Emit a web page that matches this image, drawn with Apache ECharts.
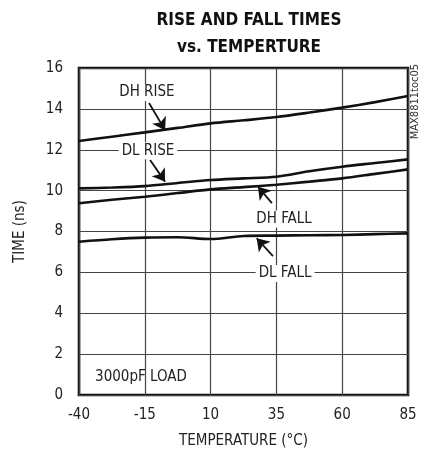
<!DOCTYPE html>
<html>
<head>
<meta charset="utf-8">
<script src="https://cdn.jsdelivr.net/npm/echarts@6/dist/echarts.min.js"></script>
<style>html,body{margin:0;padding:0;background:#fff}#c{width:425px;height:460px}</style>
</head>
<body>
<div id="c"></div>
<script>
const temps = [-40, -27.5, -15, -2.5, 10, 22.5, 35, 47.5, 60, 72.5, 85];
const dhRise = [12.43, 12.64, 12.85, 13.07, 13.29, 13.44, 13.6, 13.82, 14.06, 14.33, 14.63];
const dlRise = [10.11, 10.15, 10.22, 10.37, 10.52, 10.60, 10.68, 10.95, 11.17, 11.35, 11.53];
const dhFall = [9.38, 9.55, 9.70, 9.88, 10.06, 10.17, 10.29, 10.44, 10.60, 10.82, 11.04];
const dlFall = [7.50, 7.62, 7.70, 7.72, 7.63, 7.78, 7.80, 7.82, 7.83, 7.87, 7.91];
const xTicks = [-40, -15, 10, 35, 60, 85];
const yTicks = [0, 2, 4, 6, 8, 10, 12, 14, 16];

// annotation labels: [text, x, y]
const labels = [
  ['DH RISE', -14.2, 14.8],
  ['DL RISE', -13.8, 11.95],
  ['DH FALL', 37.9, 8.61],
  ['DL FALL', 38.3, 5.95]
];
// arrows: [tailX, tailY, tipX, tipY]
const arrows = [
  [-13.4, 14.29, -7.3, 12.96],
  [-13.0, 11.5, -7.3, 10.44],
  [33.3, 9.39, 28.0, 10.19],
  [33.7, 6.8, 27.5, 7.67]
];

const FONT = "'Liberation Sans Narrow', 'DejaVu Sans Condensed', 'Roboto', sans-serif";
const chart = echarts.init(document.getElementById('c'), null, {renderer: 'canvas'});

function pairs(vals) { return temps.map((t, i) => [t, vals[i]]); }
const lineStyle = {color: '#111', width: 2.6};
const mkSeries = (name, vals) => ({
  name, type: 'line', data: pairs(vals), showSymbol: false, smooth: 0.3,
  lineStyle, itemStyle: {color: '#111'}, z: 5
});

const series = [
  mkSeries('DH RISE', dhRise),
  mkSeries('DL RISE', dlRise),
  mkSeries('DH FALL', dhFall),
  mkSeries('DL FALL', dlFall),
  {
    type: 'line', data: [], z: 10,
    markLine: {
      silent: true, animation: false,
      symbol: ['none', 'arrow'], symbolSize: 12,
      lineStyle: {color: '#111', width: 1.8, type: 'solid'},
      label: {show: false},
      data: arrows.map(a => [{coord: [a[0], a[1]]}, {coord: [a[2], a[3]]}])
    },
    markPoint: {
      silent: true, animation: false,
      symbol: 'rect', symbolSize: 0,
      label: {
        show: true, position: 'inside', color: '#222', fontSize: 15,
        fontFamily: FONT, backgroundColor: '#fff', padding: [1, 3]
      },
      data: labels.map(l => ({coord: [l[1], l[2]], value: l[0], label: {formatter: l[0]}})).concat([
        {coord: [-33.9, 0.88], value: '3000pF LOAD', label: {formatter: '3000pF LOAD', position: 'right', distance: 0, backgroundColor: 'transparent', padding: 0}}
      ])
    }
  }
];

chart.setOption({
  animation: false,
  title: {
    text: 'RISE AND FALL TIMES\nvs. TEMPERTURE',
    left: 244, top: 2, textAlign: 'center',
    textStyle: {fontFamily: FONT, fontWeight: 'bold', fontSize: 17, lineHeight: 27, color: '#111'}
  },
  grid: {left: 79, right: 17, top: 68, bottom: 65, show: true, borderColor: '#111', borderWidth: 2.6, backgroundColor: 'transparent'},
  xAxis: {
    type: 'value', min: xTicks[0], max: xTicks[xTicks.length - 1], interval: 25,
    name: 'TEMPERATURE (°C)', nameLocation: 'middle', nameGap: 39,
    nameTextStyle: {fontFamily: FONT, fontSize: 15, color: '#222'},
    axisLine: {show: false}, axisTick: {show: false},
    axisLabel: {fontFamily: FONT, fontSize: 15, color: '#222', margin: 13},
    splitLine: {show: true, lineStyle: {color: '#444', width: 1.2}}
  },
  yAxis: {
    type: 'value', min: yTicks[0], max: yTicks[yTicks.length - 1], interval: 2,
    name: 'TIME (ns)', nameLocation: 'middle', nameGap: 51, nameRotate: 90,
    nameTextStyle: {fontFamily: FONT, fontSize: 15, color: '#222'},
    axisLine: {show: false}, axisTick: {show: false},
    axisLabel: {fontFamily: FONT, fontSize: 15, color: '#222', margin: 16},
    splitLine: {show: true, lineStyle: {color: '#444', width: 1.2}}
  },
  graphic: [{
    type: 'text', left: 410, top: 64, rotation: Math.PI / 2,
    style: {text: 'MAX8811toc05', fontFamily: FONT, fontSize: 11, fill: '#333'}
  }],
  series
});
</script>
</body>
</html>
